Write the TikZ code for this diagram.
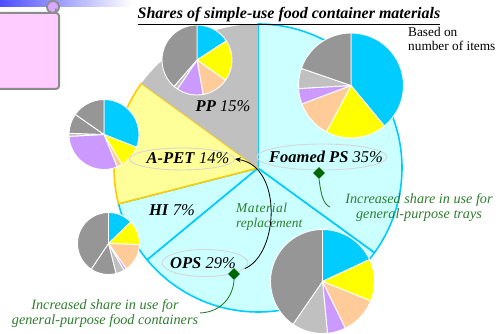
\documentclass[tikz,border=0pt]{standalone}
\usepackage{fontspec}
\setmainfont{Liberation Serif}
\usetikzlibrary{arrows.meta,shapes.geometric}

\definecolor{pcyan}{HTML}{00CCFF}
\definecolor{pyellow}{HTML}{FFFF00}
\definecolor{ppeach}{HTML}{FFCC99}
\definecolor{plav}{HTML}{CC99FF}
\definecolor{plgray}{HTML}{C0C0C0}
\definecolor{pdgray}{HTML}{969696}
\definecolor{seccyan}{HTML}{CCFFFF}
\definecolor{secyellow}{HTML}{FFFF99}
\definecolor{secorange}{HTML}{FFCC00}
\definecolor{notegreen}{HTML}{2E7D2E}
\definecolor{diamgreen}{HTML}{006600}
\definecolor{scrollpink}{HTML}{FFCCFF}
\definecolor{scrollrim}{HTML}{8C8C8C}
\definecolor{ringgray}{HTML}{D6D6D6}
\definecolor{bandblue}{HTML}{4D4DFF}

% one wedge of a small pie: centre x, centre y, radius, start angle, end angle, colour
\newcommand{\pieslice}[6]{%
  \filldraw[fill=#6, draw=white, line width=0.9pt, line join=round]
    (#1,#2) -- ++(#4:#3pt) arc[start angle=#4, end angle=#5, radius=#3pt] -- cycle;}

\tikzset{
  sector/.style={line width=1.6pt, line join=round},
  share/.style={font=\fontsize{16.5}{18}\selectfont, inner sep=0pt},
  ring/.style={ellipse, draw=ringgray, line width=0.9pt, inner sep=0pt},
  note/.style={font=\fontsize{14.2}{15}\selectfont\itshape, text=notegreen, align=center, inner sep=0pt},
  marker/.style={diamond, fill=diamgreen, minimum width=12pt, minimum height=12pt, inner sep=0pt},
  lead/.style={draw=notegreen, line width=0.9pt},
}

\begin{document}
\begin{tikzpicture}[x=1pt, y=1pt]
\useasboundingbox (0,0) rectangle (499,334);

% header band and scroll
\shade[left color=bandblue, right color=white] (0,327) rectangle (132,334);
\filldraw[fill=scrollpink, draw=scrollrim, line width=2pt, rounded corners=3pt]
  (-4,321) -- (48,321) -- (59,321) -- (59,245) -- (-4,245) -- cycle;
\filldraw[fill=plav!70!scrollpink, draw=scrollrim, line width=1.8pt] (53,327) circle (6);
\draw[scrollrim, line width=1.5pt] (47,321) -- (53,321) arc[start angle=-90, end angle=30, radius=3pt];

% main pie
\coordinate (O) at (258,166);
\filldraw[sector, fill=seccyan, draw=pcyan] (O) -- ++(-36:144pt) arc[start angle=-36, end angle=-140.4, radius=144pt] -- cycle;
\filldraw[sector, fill=seccyan, draw=pcyan] (O) -- ++(-140.4:144pt) arc[start angle=-140.4, end angle=-165.6, radius=144pt] -- cycle;
\filldraw[sector, fill=seccyan, draw=pcyan] (O) -- ++(90:144pt) arc[start angle=90, end angle=-36, radius=144pt] -- cycle;
\filldraw[sector, fill=secyellow, draw=secorange] (O) -- ++(-165.6:144pt) arc[start angle=-165.6, end angle=-216, radius=144pt] -- cycle;
\fill[plgray] (O) -- ++(144:144pt) arc[start angle=144, end angle=90, radius=144pt] -- cycle;

% PP breakdown
\pieslice{197}{274}{35}{90}{33}{pcyan}
\pieslice{197}{274}{35}{33}{-35.5}{pyellow}
\pieslice{197}{274}{35}{-35.5}{-80}{ppeach}
\pieslice{197}{274}{35}{-80}{-124}{plav}
\pieslice{197}{274}{35}{-124}{-131}{plgray}
\pieslice{197}{274}{35}{-131}{-270}{pdgray}

% Foamed PS breakdown
\pieslice{351}{248.5}{52.5}{90}{-50.5}{pcyan}
\pieslice{351}{248.5}{52.5}{-50.5}{-118}{pyellow}
\pieslice{351}{248.5}{52.5}{-118}{-159.4}{ppeach}
\pieslice{351}{248.5}{52.5}{-159.4}{-176.7}{plav}
\pieslice{351}{248.5}{52.5}{-176.7}{-199}{plgray}
\pieslice{351}{248.5}{52.5}{-199}{-270}{pdgray}

% A-PET breakdown
\pieslice{104}{199.5}{35}{90}{-21.5}{pcyan}
\pieslice{104}{199.5}{35}{-21.5}{-59}{pyellow}
\pieslice{104}{199.5}{35}{-59}{-68}{ppeach}
\pieslice{104}{199.5}{35}{-68}{-177}{plav}
\pieslice{104}{199.5}{35}{-177}{-182}{plgray}
\pieslice{104}{199.5}{35}{-182}{-215}{pdgray}
\pieslice{104}{199.5}{35}{-215}{-270}{pdgray}

% HI breakdown
\pieslice{108.5}{90.5}{31}{90}{44}{pcyan}
\pieslice{108.5}{90.5}{31}{44}{-2}{pyellow}
\pieslice{108.5}{90.5}{31}{-2}{-55}{ppeach}
\pieslice{108.5}{90.5}{31}{-55}{-60}{plav}
\pieslice{108.5}{90.5}{31}{-60}{-76}{plgray}
\pieslice{108.5}{90.5}{31}{-76}{-124}{pdgray}
\pieslice{108.5}{90.5}{31}{-124}{-270}{pdgray}

% OPS breakdown
\pieslice{322.5}{52.5}{52}{90}{25}{pcyan}
\pieslice{322.5}{52.5}{52}{25}{-22}{pyellow}
\pieslice{322.5}{52.5}{52}{-22}{-64}{ppeach}
\pieslice{322.5}{52.5}{52}{-64}{-84.5}{plav}
\pieslice{322.5}{52.5}{52}{-84.5}{-124.6}{plgray}
\pieslice{322.5}{52.5}{52}{-124.6}{-270}{pdgray}

% title and note
\node[font=\fontsize{16}{18}\selectfont\bfseries\itshape, inner sep=0pt] (title) at (289,318)
  {\underline{Shares of simple-use food container materials}};
\node[font=\fontsize{13.3}{14.5}\selectfont, align=left, anchor=north west, inner sep=0pt] (basis) at (408,307)
  {Based on\\number of items};

% share labels
\node[ring, minimum width=130pt, minimum height=26pt] (psring) at (322,177) {};
\node[ring, minimum width=105pt, minimum height=22pt] (apetring) at (182,175) {};
\node[ring, minimum width=86pt, minimum height=27pt] (opsring) at (205,71) {};

\node[share] (pslab) at (326,177) {\textbf{\textit{Foamed PS}} \textit{35\%}};
\node[share] (pplab) at (223,228) {\textbf{\textit{PP}} \textit{15\%}};
\node[share] (apetlab) at (188,176) {\textbf{\textit{A-PET}} \textit{14\%}};
\node[share] (hilab) at (172,124) {\textbf{\textit{HI}} \textit{7\%}};
\node[share] (opslab) at (203,71) {\textbf{\textit{OPS}} \textit{29\%}};

% material replacement arrow
\node[note, font=\fontsize{13.5}{14.5}\selectfont\itshape, align=left, anchor=west] (repl) at (236,117)
  {{\addfontfeatures{LetterSpace=4}Material}\\replacement};
\draw[line width=0.8pt, -{Stealth[length=6pt, width=5pt]}]
  (opsring.-8) .. controls (279,80) and (283,168) .. (apetring.east);

% call-outs
\node[marker] (psmark) at (319,161) {};
\node[marker] (opsmark) at (234,60) {};
\node[note] (traynote) at (419,126) {Increased share in use for\\general-purpose trays};
\node[note] (foodnote) at (105,20) {Increased share in use for\\general-purpose food containers};
\coordinate (trayend) at (330,127);
\coordinate (foodend) at (200,21);
\draw[lead] (psmark.south) .. controls (321,140) and (323,130) .. (trayend);
\draw[lead] (opsmark.south) .. controls (233,38) and (222,22) .. (foodend);
\end{tikzpicture}
\end{document}
